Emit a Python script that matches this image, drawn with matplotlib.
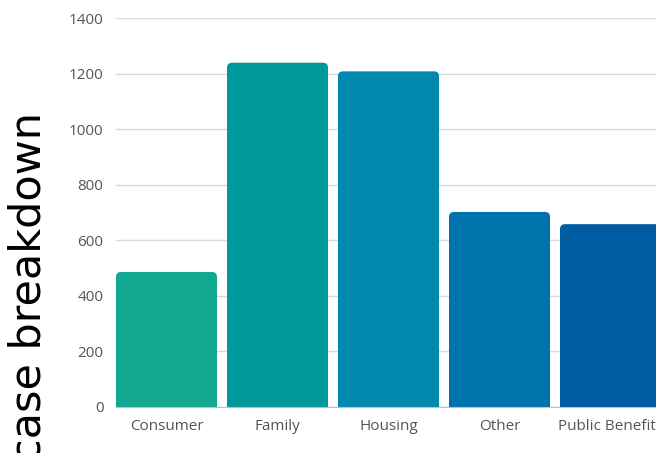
import matplotlib
matplotlib.use("Agg")
import matplotlib.pyplot as plt
from matplotlib.patches import FancyBboxPatch

# data
categories = ['Consumer', 'Family', 'Housing', 'Other', 'Public Benefits']
cases = [486, 1239, 1208, 702, 658]
colors = ['#12a88f', '#00999b', '#0089ac', '#0073ac', '#005ca3']
yticks = [0, 200, 400, 600, 800, 1000, 1200, 1400]

plt.rcParams['font.family'] = ['Open Sans', 'DejaVu Sans']

fig = plt.figure(figsize=(6.56, 4.53), dpi=100)
# axes runs a little past the right edge, as in the reference
ax = fig.add_axes([116 / 656, 46 / 453, 555 / 656, 389 / 453])

width = 0.91
bars = ax.bar(range(len(categories)), cases, width, color=colors)

# swap the plain bars for ones with rounded tops
px_x = 555 / 5.0      # pixels per x unit
px_y = 389 / 1400.0   # pixels per y unit
r = 5.0
for b, c in zip(bars, colors):
    x0 = b.get_x()
    h = b.get_height()
    b.set_visible(False)
    p = FancyBboxPatch((x0, -60), width, h + 60,
                       boxstyle=f"round,pad=0,rounding_size={r / px_x}",
                       mutation_aspect=px_x / px_y,
                       facecolor=c, edgecolor='none', zorder=2)
    ax.add_patch(p)

ax.set_xlim(-width / 2, 4.545)
ax.set_ylim(0, 1400)
ax.set_yticks(yticks)
ax.set_xticks(range(len(categories)))
ax.set_xticklabels(categories)

ax.grid(axis='y', color='#d9d9d9', linewidth=1)
ax.set_axisbelow(True)
for s in ['top', 'right', 'left']:
    ax.spines[s].set_visible(False)
ax.spines['bottom'].set_color('#c0c0c0')
ax.spines['bottom'].set_zorder(3)
ax.tick_params(axis='both', length=0, labelsize=11, labelcolor='#555555')
ax.tick_params(axis='y', pad=9)
ax.tick_params(axis='x', pad=8.5)

# big axis title, its start is cut by the bottom edge like the reference
fig.text(29 / 656, 1 - 112 / 453, 'case breakdown', rotation=90,
         ha='center', va='top', fontsize=31, fontweight='normal',
         family=['DejaVu Sans'], color='black')

fig.savefig('out.png', dpi=100)
